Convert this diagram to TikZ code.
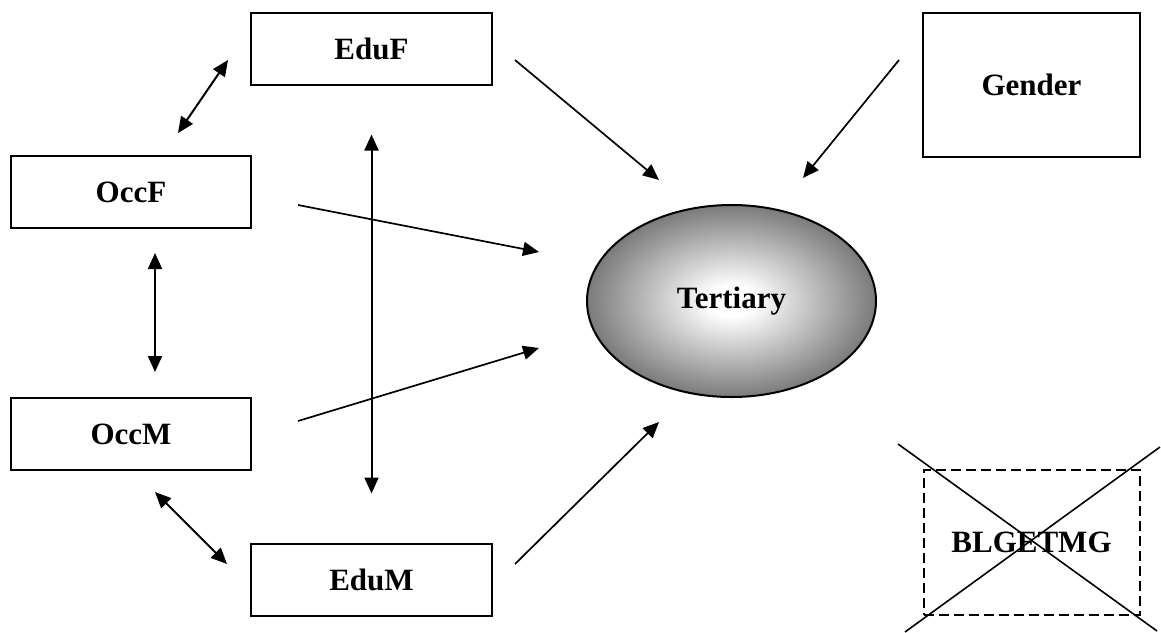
\documentclass[tikz,border=0pt]{standalone}
\usepackage{fontspec}
\setmainfont{Liberation Serif}
\usetikzlibrary{arrows.meta,shapes.geometric,positioning}

\pgfdeclareradialshading{tertshade}{\pgfpoint{0bp}{0bp}}{color(0bp)=(white); color(4bp)=(white); color(25bp)=(black!52); color(50bp)=(black!52)}

\tikzset{
  var/.style={draw, line width=1pt, inner sep=0pt, minimum width=120.5pt, minimum height=36pt, font=\fontsize{15.5}{18}\selectfont\bfseries},
  effect/.style={line width=0.85pt, -{Triangle[length=8pt,width=7pt]}},
  corr/.style={line width=1pt, {Triangle[length=8pt,width=7pt]}-{Triangle[length=8pt,width=7pt]}},
}

\begin{document}
\begin{tikzpicture}[x=0.5pt,y=-0.5pt]
            \useasboundingbox (0,0) rectangle (1161,632);

            \node (eduf) [var] at (371.5,48.5) {EduF};
            \node (occf) [var, minimum width=120pt] at (131,192) {OccF};
            \node (occm) [var, minimum width=120pt, below=84pt of occf] {OccM};
            \node (edum) [var, below=228.5pt of eduf] {EduM};

            \node (gender) [var, minimum width=108.5pt, minimum height=72pt] at (1031.5,85) {Gender};
            \node (blg) [var, dash pattern=on 5pt off 2.5pt, minimum width=108pt, minimum height=72.5pt, below=155.5pt of gender] {BLGETMG};

            \node (tert) [var, ellipse, shading=tertshade, minimum width=144.5pt, minimum height=96pt] at (731.5,301) {Tertiary};

            % free ends of the arrows
            \coordinate (eduf-l) at (228,60);
            \coordinate (occf-t) at (178,133);
            \coordinate (occf-b) at (155,253);
            \coordinate (occm-t) at (155,372);
            \coordinate (occm-b) at (155,492);
            \coordinate (edum-l) at (227,564);
            \coordinate (eduf-r) at (515,60);
            \coordinate (gender-l) at (899,60);
            \coordinate (occf-r) at (298,205);
            \coordinate (occm-r) at (298,421);
            \coordinate (edum-r) at (515,564);
            \coordinate (tert-nw) at (659,180);
            \coordinate (tert-ne) at (803,178);
            \coordinate (tert-w1) at (539,252);
            \coordinate (tert-w2) at (539,348);
            \coordinate (tert-sw) at (659,422);

        \draw [corr] (eduf-l) -- (occf-t);
        \draw [corr] (occf-b) -- (occm-t);
        \draw [corr] (occm-b) -- (edum-l);
        \draw [corr, shorten <=24.5pt, shorten >=24.5pt] (eduf) -- (edum);

        \draw [effect] (eduf-r) -- (tert-nw);
        \draw [effect] (gender-l) -- (tert-ne);
        \draw [effect] (occf-r) -- (tert-w1);
        \draw [effect] (occm-r) -- (tert-w2);
        \draw [effect] (edum-r) -- (tert-sw);

        % crossed out
        \draw [line width=0.8pt] (898,444) -- (1157,631);
        \draw [line width=0.8pt] (1160,447) -- (905,632);
        \end{tikzpicture}
\end{document}
